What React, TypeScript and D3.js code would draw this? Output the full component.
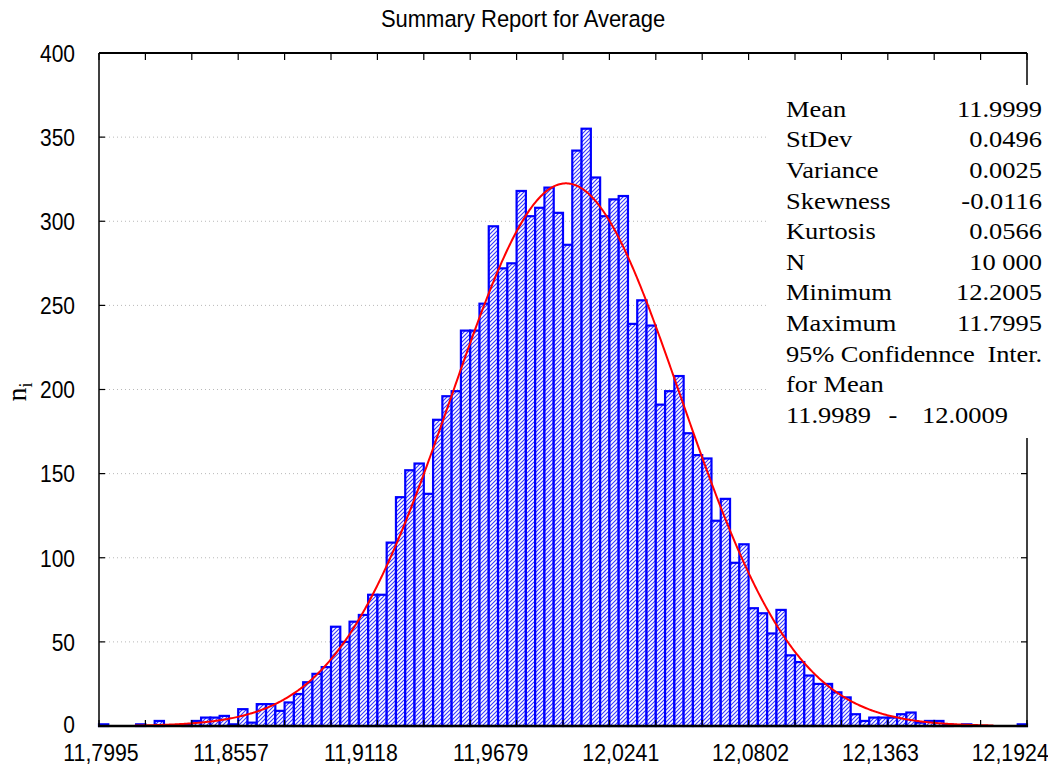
import { useEffect, useRef } from "react";
import * as d3 from "d3";

const W = 1048;
const H = 767;

// histogram: 100 bins starting at the minimum
const binStart = 11.7995;
const binWidth = 0.00401;
const counts = [
  1, 0, 0, 0, 1, 0, 3, 0, 0, 1,
  3, 5, 5, 6, 1, 10, 2, 13, 13, 9,
  14, 19, 26, 31, 35, 59, 50, 62, 66, 78,
  78, 109, 136, 152, 156, 138, 182, 196, 199, 235,
  235, 251, 297, 272, 275, 318, 303, 308, 320, 305,
  286, 342, 355, 326, 303, 313, 315, 239, 253, 238,
  191, 199, 208, 174, 161, 159, 122, 135, 97, 108,
  70, 67, 55, 69, 42, 38, 30, 25, 25, 20,
  17, 7, 3, 5, 5, 5, 7, 8, 2, 3,
  3, 1, 0, 1, 0, 0, 0, 0, 0, 1,
];

const xLabelValues = [11.7995, 11.8557, 11.9118, 11.9679, 12.0241, 12.0802, 12.1363, 12.1924];
const xLabels = ["11,7995", "11,8557", "11,9118", "11,9679", "12,0241", "12,0802", "12,1363", "12,1924"];
const yTicks = [0, 50, 100, 150, 200, 250, 300, 350, 400];

// fitted normal curve (peak position)
const curveMean = 12.0013;
const curveSd = 0.0496;
const sampleN = 10000;
const curveFrom = 11.815;
const curveTo = 12.186;

const statNames = ["Mean", "StDev", "Variance", "Skewness", "Kurtosis", "N", "Minimum", "Maximum"];
const statValues = ["11.9999", "0.0496", "0.0025", "-0.0116", "0.0566", "10 000", "12.2005", "11.7995"];

const SANS = "'Liberation Sans', Arial, sans-serif";
const SERIF = "'Liberation Serif', 'Times New Roman', serif";

const App = () => {
  const ref = useRef<HTMLDivElement>(null);

  useEffect(() => {
    const el = ref.current;
    if (!el) return;
    el.innerHTML = "";

    const left = 99, right = 1027, top = 53, bottom = 726;

    const svg = d3
      .select(el)
      .append("svg")
      .attr("width", W)
      .attr("height", H)
      .style("display", "block")
      .style("background", "#fff");

    const x = d3
      .scaleLinear()
      .domain([binStart, binStart + counts.length * binWidth])
      .range([left, right]);
    const y = d3.scaleLinear().domain([0, 400]).range([bottom, top]);

    const txt = (g: any, tx: number, ty: number, s: string, size: number, family: string, anchor: string, sy: number) =>
      g
        .append("text")
        .attr("transform", `translate(${tx},${ty}) scale(1,${sy})`)
        .attr("font-size", size)
        .attr("font-family", family)
        .attr("text-anchor", anchor)
        .attr("fill", "#000")
        .text(s);

    // hatch fill
    const pat = svg
      .append("defs")
      .append("pattern")
      .attr("id", "hatch")
      .attr("patternUnits", "userSpaceOnUse")
      .attr("width", 4)
      .attr("height", 4);
    pat.append("rect").attr("width", 4).attr("height", 4).attr("fill", "#fff");
    pat
      .append("path")
      .attr("d", "M-1,1 l2,-2 M0,4 l4,-4 M3,5 l2,-2")
      .attr("stroke", "#3434ff")
      .attr("stroke-width", 1.1);

    // grid
    svg
      .append("g")
      .selectAll("line")
      .data(yTicks.slice(1, -1))
      .join("line")
      .attr("x1", left + 2)
      .attr("x2", right - 2)
      .attr("y1", (d) => y(d))
      .attr("y2", (d) => y(d))
      .attr("stroke", "#b8b8b8")
      .attr("stroke-dasharray", "1,3");

    // bars
    const bw = x(binStart + binWidth) - x(binStart);
    svg
      .append("g")
      .selectAll("rect")
      .data(counts)
      .join("rect")
      .attr("x", (d, i) => x(binStart + i * binWidth))
      .attr("width", bw)
      .attr("y", (d) => y(d))
      .attr("height", (d) => y(0) - y(d))
      .attr("fill", "url(#hatch)")
      .attr("stroke", "#0000ff")
      .attr("stroke-width", 2.2)
      .attr("display", (d) => (d > 0 ? null : "none"));

    // normal curve
    const pts = d3.range(curveFrom, curveTo, 0.0005).map((v) => {
      const z = (v - curveMean) / curveSd;
      const f = (sampleN * binWidth) / (curveSd * Math.sqrt(2 * Math.PI));
      return [v, f * Math.exp(-0.5 * z * z)];
    });
    const line = d3
      .line()
      .x((d) => x(d[0]))
      .y((d) => y(d[1]));
    svg
      .append("path")
      .datum(pts)
      .attr("fill", "none")
      .attr("stroke", "#ff0000")
      .attr("stroke-width", 2)
      .attr("d", line as any);

    // axes frame
    const ax = svg.append("g").attr("stroke", "#000");
    ax.append("line").attr("x1", left).attr("x2", right).attr("y1", top).attr("y2", top).attr("stroke-width", 2);
    ax.append("line").attr("x1", left - 1).attr("x2", right + 1).attr("y1", bottom).attr("y2", bottom).attr("stroke-width", 2.5);
    ax.append("line").attr("x1", left).attr("x2", left).attr("y1", top).attr("y2", bottom).attr("stroke-width", 1.5);
    ax.append("line").attr("x1", right).attr("x2", right).attr("y1", top).attr("y2", bottom).attr("stroke-width", 1.5);

    const minor = d3.range(21).map((k) => binStart + k * 5 * binWidth);
    ax.append("g")
      .selectAll("line")
      .data(minor)
      .join("line")
      .attr("x1", (d) => x(d))
      .attr("x2", (d) => x(d))
      .attr("y1", top)
      .attr("y2", top + 7)
      .attr("stroke-width", 1.2);
    ax.append("g")
      .selectAll("line")
      .data(minor)
      .join("line")
      .attr("x1", (d) => x(d))
      .attr("x2", (d) => x(d))
      .attr("y1", bottom)
      .attr("y2", bottom - 6)
      .attr("stroke-width", 1.2);
    ax.append("g")
      .selectAll("line")
      .data(yTicks)
      .join("line")
      .attr("x1", left)
      .attr("x2", left + 6)
      .attr("y1", (d) => y(d))
      .attr("y2", (d) => y(d))
      .attr("stroke-width", 1.2);
    ax.append("g")
      .selectAll("line")
      .data(yTicks)
      .join("line")
      .attr("x1", right)
      .attr("x2", right - 6)
      .attr("y1", (d) => y(d))
      .attr("y2", (d) => y(d))
      .attr("stroke-width", 1.2);

    // tick labels
    const lab = svg.append("g");
    yTicks.forEach((d) => txt(lab, 75, y(d) + (d === 0 ? 6.5 : 8.8), String(d), 21, SANS, "end", d === 0 ? 1.1 : 1.17));
    xLabelValues.forEach((d, i) => txt(lab, x(d) + 2, 761, xLabels[i], 21.3, SANS, "middle", 1.12));

    // title
    txt(svg, 523, 27, "Summary Report for Average", 22, SANS, "middle", 1.08);

    // y axis label
    const yl = svg
      .append("text")
      .attr("transform", "translate(26,392) rotate(-90)")
      .attr("font-family", SERIF)
      .attr("font-size", 28)
      .attr("text-anchor", "middle");
    yl.append("tspan").text("n");
    yl.append("tspan").attr("font-size", 18).attr("dy", 6).text("i");

    // stats box
    const box = svg.append("g");
    box.append("rect").attr("x", 766).attr("y", 85).attr("width", 282).attr("height", 353).attr("fill", "#fff");
    const sz = 26.5;
    const sy = 0.9;
    statNames.forEach((s, i) => {
      const by = 116.7 + i * 30.6;
      txt(box, 786, by, s, sz, SERIF, "start", sy);
      txt(box, 1042, by, statValues[i], sz, SERIF, "end", sy);
    });
    txt(box, 786, 116.7 + 8 * 30.6, "95% Confidennce  Inter.", sz, SERIF, "start", sy)
      .attr("textLength", 256)
      .attr("lengthAdjust", "spacing")
      .attr("xml:space", "preserve");
    txt(box, 786, 116.7 + 9 * 30.6, "for Mean", sz, SERIF, "start", sy);
    txt(box, 786, 116.7 + 10 * 30.6, "11.9989", sz, SERIF, "start", sy);
    txt(box, 893, 116.7 + 10 * 30.6, "-", sz, SERIF, "middle", sy);
    txt(box, 922, 116.7 + 10 * 30.6, "12.0009", sz, SERIF, "start", sy);

    return () => {
      if (ref.current) ref.current.innerHTML = "";
    };
  }, []);

  return <div ref={ref} style={{ position: "absolute", left: 0, top: 0 }}></div>;
};

export default App;
